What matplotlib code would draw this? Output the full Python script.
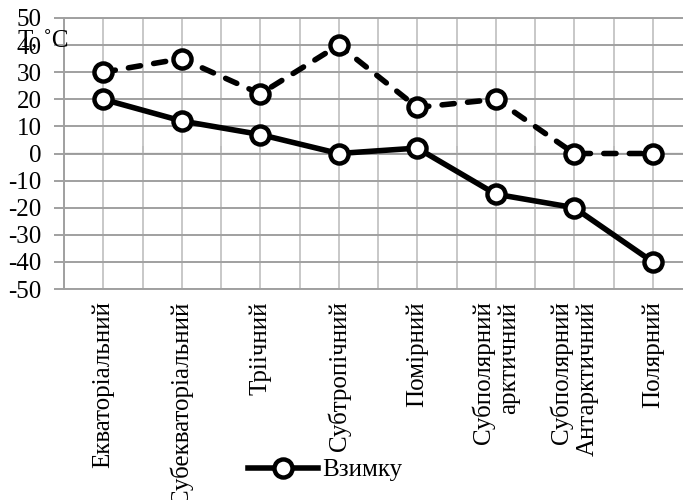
import numpy as np
import matplotlib.pyplot as plt

# дані
zones = ["Екваторіальний", "Субекваторіальний", "Трі\u0456чний", "Субтропічний",
         "Помірний", "Субполярний\nарктичний", "Субполярний\nАнтарктичний", "Полярний"]
summer = [30, 35, 22, 40, 17, 20, 0, 0]
winter = [20, 12, 7, 0, 2, -15, -20, -40]
y_ticks = list(range(-50, 51, 10))

plt.rcParams['font.family'] = ['Liberation Serif', 'DejaVu Serif']
plt.rcParams['font.size'] = 18
plt.rcParams['axes.unicode_minus'] = False

fig = plt.figure(figsize=(6.83, 5.0), dpi=100)
ax = fig.add_axes([64 / 683, 0.422, 628 / 683, 0.542])

x = np.arange(len(zones))

# влітку (пунктир) і взимку (суцільна)
ax.plot(x, summer, color='black', linewidth=4, linestyle=(0, (2.2, 2.4)),
        dash_capstyle='round', marker='o', markersize=13, markerfacecolor='white',
        markeredgewidth=3.2, markeredgecolor='black', zorder=3)
ax.plot(x, winter, color='black', linewidth=4, marker='o', markersize=13,
        markerfacecolor='white', markeredgewidth=3.2, markeredgecolor='black',
        label="Взимку", zorder=3)

ax.set_xlim(-0.5, len(zones) - 0.5)
ax.set_ylim(-50, 50)
ax.set_yticks(y_ticks)
ax.set_xticks(x)
ax.set_xticklabels(zones, rotation=90, va='top', ha='center', multialignment='right')
ax.set_xticks(np.arange(-0.5, len(zones), 1.0), minor=True)

ax.grid(axis='y', which='major', color='#a0a0a0', linewidth=1.4)
ax.grid(axis='x', which='both', color='#c4c4c4', linewidth=1.3)
ax.set_axisbelow(True)

ax.tick_params(axis='y', length=7, width=1.4, color='#a0a0a0', pad=9)
ax.tick_params(axis='x', which='both', length=0, pad=9)
for s in ax.spines.values():
    s.set_color('#a0a0a0')
    s.set_linewidth(1.4)

# насічки на осі при y = 0
sec = ax.secondary_xaxis(0.5)
sec.set_xticks(np.arange(0.5, len(zones) - 1, 1.0))
sec.set_xticklabels([])
sec.tick_params(length=5, width=1.4, color='#8c8c8c', direction='out')
sec.spines['bottom'].set_color('#a0a0a0')
sec.spines['bottom'].set_linewidth(1.4)

fig.text(18 / 683, 1 - 47 / 500, "Т, ˚С", ha='left', va='baseline')

fig.legend(loc='center', bbox_to_anchor=(0.476, 0.06), frameon=False,
           handlelength=2.8, handletextpad=0.2)

fig.savefig("out.png", dpi=100)
